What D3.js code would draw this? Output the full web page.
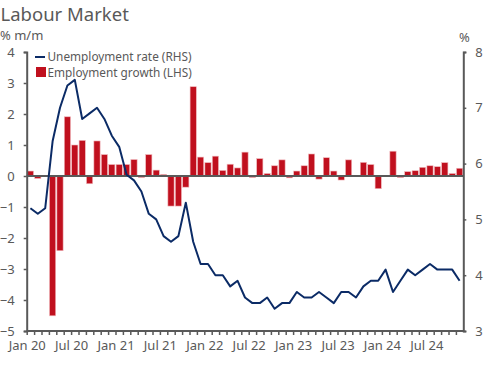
<!DOCTYPE html>
<html>
<head>
<meta charset="utf-8">
<script src="https://cdn.jsdelivr.net/npm/d3@7"></script>
<style>
  html, body { margin: 0; padding: 0; background: #fff; }
  svg { display: block; font-family: "Noto Sans", sans-serif; }
</style>
</head>
<body>
<div id="chart"></div>
<script>
/* Labour Market: employment growth (bars, LHS) vs unemployment rate (line, RHS) */

// monthly categories, Jan 2020 .. Nov 2024
var months = d3.timeMonth.range(new Date(2020, 0, 1), new Date(2024, 11, 1));

// % m/m
var employmentGrowth = [
  0.16, -0.08, 0.01, -4.51, -2.41, 1.91, 1.00, 1.15, -0.25, 1.13, 0.69, 0.37,
  0.37, 0.37, 0.53, -0.05, 0.69, 0.19, 0.05, -0.97, -0.97, -0.36, 2.88, 0.61,
  0.43, 0.64, 0.18, 0.38, 0.26, 0.77, -0.05, 0.56, 0.08, 0.33, 0.52, -0.06,
  0.16, 0.33, 0.71, -0.10, 0.59, 0.16, -0.13, 0.52, 0.00, 0.44, 0.37, -0.41,
  0.00, 0.80, -0.05, 0.14, 0.17, 0.28, 0.33, 0.30, 0.43, 0.08, 0.25
];

var unemploymentRate = [
  5.2, 5.1, 5.2, 6.4, 7.0, 7.4, 7.5, 6.8, 6.9, 7.0, 6.8, 6.5,
  6.3, 5.8, 5.7, 5.5, 5.1, 5.0, 4.7, 4.6, 4.7, 5.3, 4.6, 4.2,
  4.2, 4.0, 4.0, 3.8, 3.9, 3.6, 3.5, 3.5, 3.6, 3.4, 3.5, 3.5,
  3.7, 3.6, 3.6, 3.7, 3.6, 3.5, 3.7, 3.7, 3.6, 3.8, 3.9, 3.9,
  4.1, 3.7, 3.9, 4.1, 4.0, 4.1, 4.2, 4.1, 4.1, 4.1, 3.9
];

var leftTicks = [4, 3, 2, 1, 0, -1, -2, -3, -4, -5];
var rightTicks = [8, 7, 6, 5, 4, 3];
var xTickLabels = ["Jan 20", "Jul 20", "Jan 21", "Jul 21", "Jan 22",
                   "Jul 22", "Jan 23", "Jul 23", "Jan 24", "Jul 24"];

(function () {
  "use strict";

  var W = 500, H = 369;
  var left = 26.7, right = 463.3, top = 52, bottom = 331;
  var axisColor = "#595959", textColor = "#595959";
  var barColor = "#c0101e", lineColor = "#0b2b66";

  var svg = d3.select("#chart").append("svg").attr("width", W).attr("height", H);

  var x = d3.scaleBand().domain(d3.range(months.length)).range([left, right]).paddingInner(0.16).paddingOuter(0.08);
  var xEdge = d3.scaleLinear().domain([0, months.length]).range([left, right]);
  var yL = d3.scaleLinear().domain([-5, 4]).range([bottom, top]);
  var yR = d3.scaleLinear().domain([3, 8]).range([bottom, top]);

  // Title and unit labels
  svg.append("text").attr("x", 0.5).attr("y", 20.5).style("font-size", "18.5px").style("fill", textColor).text("Labour Market");
  svg.append("text").attr("x", 0).attr("y", 39.5).style("font-size", "13px").style("fill", textColor).text("% m/m");
  svg.append("text").attr("x", 459).attr("y", 41.5).style("font-size", "13px").style("fill", textColor).text("%");

  // Bars
  svg.append("g").selectAll("rect").data(employmentGrowth).join("rect")
    .attr("x", function (d, i) { return x(i); })
    .attr("width", x.bandwidth())
    .attr("y", function (d) { return yL(Math.max(0, d)); })
    .attr("height", function (d) { return Math.abs(yL(d) - yL(0)); })
    .attr("fill", barColor)
    .attr("stroke", "#f1b9bd").attr("stroke-width", 0.6);

  // Zero line
  svg.append("line").attr("x1", left).attr("x2", right).attr("y1", yL(0)).attr("y2", yL(0))
    .attr("stroke", axisColor).attr("stroke-width", 2);

  // Unemployment line
  var line = d3.line()
    .x(function (d, i) { return x(i) + x.bandwidth() / 2; })
    .y(function (d) { return yR(d); });
  svg.append("path").datum(unemploymentRate)
    .attr("fill", "none").attr("stroke", lineColor).attr("stroke-width", 2).attr("stroke-linejoin", "round")
    .attr("d", line);

  // Axes
  var gL = svg.append("g").attr("transform", "translate(" + left + ",0)")
    .call(d3.axisLeft(yL).tickValues(leftTicks).tickSize(3).tickPadding(9).tickFormat(d3.format("d")));
  var gR = svg.append("g").attr("transform", "translate(" + right + ",0)")
    .call(d3.axisRight(yR).tickValues(rightTicks).tickSize(3).tickPadding(9).tickFormat(d3.format("d")));
  var gX = svg.append("g").attr("transform", "translate(0," + bottom + ")")
    .call(d3.axisBottom(xEdge).tickValues(d3.range(months.length)).tickSize(4).tickPadding(6)
      .tickFormat(function (i) { return i % 6 === 0 ? xTickLabels[i / 6] : ""; }));

  [gL, gR, gX].forEach(function (g) {
    g.select(".domain").attr("stroke", axisColor).attr("stroke-width", 2);
    g.selectAll(".tick line").attr("stroke", axisColor).attr("stroke-width", 1.5);
    g.selectAll(".tick text").style("fill", textColor).style("font-size", "13px").style("font-family", "Noto Sans");
  });
  gX.select(".domain").attr("d", "M" + left + ",0H" + right);

  // Legend
  var leg = svg.append("g");
  leg.append("line").attr("x1", 35).attr("x2", 45).attr("y1", 57).attr("y2", 57).attr("stroke", lineColor).attr("stroke-width", 2);
  leg.append("text").attr("x", 47.5).attr("y", 61).style("font-size", "11.8px").style("fill", textColor).text("Unemployment rate (RHS)");
  leg.append("rect").attr("x", 36).attr("y", 67).attr("width", 10).attr("height", 10).attr("fill", barColor);
  leg.append("text").attr("x", 47.5).attr("y", 77).style("font-size", "11.8px").style("fill", textColor).text("Employment growth (LHS)");
})();
</script>
</body>
</html>
